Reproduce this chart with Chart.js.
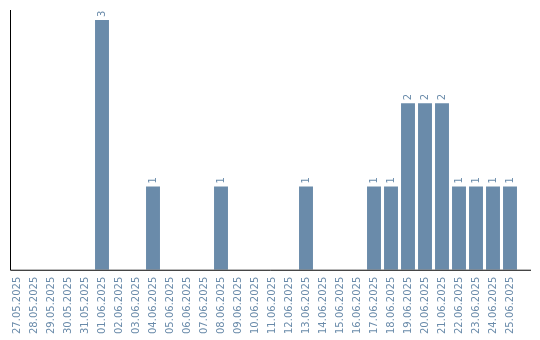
<!DOCTYPE html>
<html>
<head>
<meta charset="utf-8">
<script src="https://cdn.jsdelivr.net/npm/chart.js@4"></script>
<style>
    html, body { margin: 0; padding: 0; background: #fff; }
    #wrap { width: 540px; height: 340px; }
</style>
</head>
<body>
<div id="wrap"><canvas id="chart"></canvas></div>
<script>
const dates = [
    '27.05.2025', '28.05.2025', '29.05.2025', '30.05.2025', '31.05.2025',
    '01.06.2025', '02.06.2025', '03.06.2025', '04.06.2025', '05.06.2025',
    '06.06.2025', '07.06.2025', '08.06.2025', '09.06.2025', '10.06.2025',
    '11.06.2025', '12.06.2025', '13.06.2025', '14.06.2025', '15.06.2025',
    '16.06.2025', '17.06.2025', '18.06.2025', '19.06.2025', '20.06.2025',
    '21.06.2025', '22.06.2025', '23.06.2025', '24.06.2025', '25.06.2025'
];
const counts = [
    0, 0, 0, 0, 0,
    3, 0, 0, 1, 0,
    0, 0, 1, 0, 0,
    0, 0, 1, 0, 0,
    0, 1, 1, 2, 2,
    2, 1, 1, 1, 1
];
const yMax = 3.12;

const barColor = 'rgb(106, 139, 170)';
const ctx = document.getElementById('chart').getContext('2d');

// value labels above bars, rotated like the ticks
const valueLabels = {
    id: 'valueLabels',
    afterDatasetsDraw(chart) {
        const c = chart.ctx;
        const meta = chart.getDatasetMeta(0);
        c.save();
        c.fillStyle = barColor;
        c.font = '10px "DejaVu Sans"';
        c.textAlign = 'left';
        c.textBaseline = 'middle';
        meta.data.forEach((bar, i) => {
            if (!counts[i]) return;
            c.save();
            c.translate(bar.x, bar.y - 3);
            c.rotate(-Math.PI / 2);
            c.fillText(String(counts[i]), 0, 0);
            c.restore();
        });
        c.restore();
    }
};

// the two axis lines
const axisLines = {
    id: 'axisLines',
    afterDraw(chart) {
        const c = chart.ctx;
        const a = chart.chartArea;
        c.save();
        c.strokeStyle = '#000';
        c.lineWidth = 1;
        c.beginPath();
        c.moveTo(a.left + 2, a.top);
        c.lineTo(a.left + 2, a.bottom + 0.5);
        c.lineTo(a.right + 12.5, a.bottom + 0.5);
        c.stroke();
        c.restore();
    }
};

new Chart(ctx, {
    type: 'bar',
    data: {
        labels: dates,
        datasets: [{
            data: counts,
            backgroundColor: barColor,
            barPercentage: 0.82,
            categoryPercentage: 1
        }]
    },
    options: {
        responsive: true,
        maintainAspectRatio: false,
        animation: false,
        layout: { padding: { left: 8.5, right: 21.5, top: 10, bottom: -1 } },
        plugins: {
            legend: { display: false },
            tooltip: { enabled: false }
        },
        scales: {
            x: {
                grid: { display: false, drawTicks: false },
                border: { display: false },
                ticks: {
                    color: barColor,
                    font: { family: 'DejaVu Sans', size: 10 },
                    minRotation: 90,
                    maxRotation: 90,
                    autoSkip: false,
                    padding: 7
                }
            },
            y: {
                display: false,
                min: 0,
                max: yMax
            }
        }
    },
    plugins: [valueLabels, axisLines]
});
</script>
</body>
</html>
